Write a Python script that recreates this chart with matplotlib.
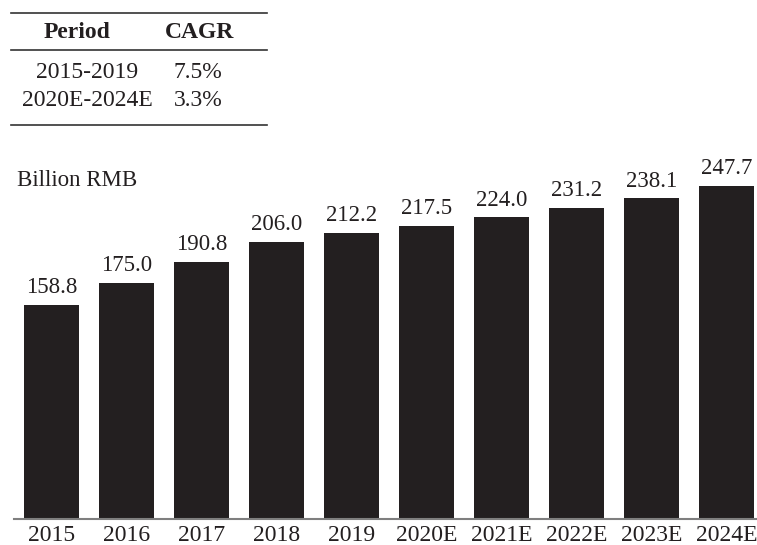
import numpy as np
import matplotlib.pyplot as plt
from matplotlib.lines import Line2D

# Market size, billion RMB
years = ['2015', '2016', '2017', '2018', '2019',
         '2020E', '2021E', '2022E', '2023E', '2024E']
values = [158.8, 175.0, 190.8, 206.0, 212.2, 217.5, 224.0, 231.2, 238.1, 247.7]

# CAGR table
periods = ['2015-2019', '2020E-2024E']
cagr = ['7.5%', '3.3%']

plt.rcParams['font.family'] = ['Liberation Serif', 'DejaVu Serif']

fig = plt.figure(figsize=(7.57, 5.45), dpi=100)
W, H = 757, 545

# main bar axes, placed in pixel terms
left, right, bottom, top = 14, 757, 519, 169
ax = fig.add_axes([left / W, (H - bottom) / H, (right - left) / W, (bottom - top) / H])

x = np.arange(len(years))
bar_color = '#231f20'
ax.bar(x, values, width=0.733, color=bar_color)
for xi, v in zip(x, values):
    ax.annotate(f'{v:.1f}', (xi, v), xytext=(0, 5), textcoords='offset points',
                ha='center', va='bottom', fontsize=16.5, color='#231f20')

ax.set_xlim(-0.5, 9.407)
ax.set_ylim(0, 260)
ax.set_xticks(x)
ax.set_xticklabels(years, fontsize=17, color='#231f20')
ax.tick_params(axis='x', length=0, pad=4)
ax.set_yticks([])
for s in ['top', 'right', 'left']:
    ax.spines[s].set_visible(False)
ax.spines['bottom'].set_color('#7f7f7f')
ax.spines['bottom'].set_linewidth(1.5)

fig.text(17 / W, 1 - 180 / H, 'Billion RMB', fontsize=16.5, color='#231f20',
         ha='left', va='center')

# CAGR table drawn in figure pixel coordinates
def fx(px):
    return px / W

def fy(py):
    return 1 - py / H

line_color = '#333333'
for py in [13, 50, 125]:
    fig.add_artist(Line2D([fx(11), fx(267)], [fy(py), fy(py)],
                          color=line_color, linewidth=1.2))

fig.text(fx(77), fy(33), 'Period', fontsize=17, fontweight='bold',
         ha='center', va='center', color='#231f20')
fig.text(fx(200), fy(33), 'CAGR', fontsize=17, fontweight='bold',
         ha='center', va='center', color='#231f20')
for i, (p, c) in enumerate(zip(periods, cagr)):
    yy = fy(72 + 29 * i)
    fig.text(fx(87), yy, p, fontsize=17, ha='center', va='center', color='#231f20')
    fig.text(fx(198), yy, c, fontsize=17, ha='center', va='center', color='#231f20')

fig.savefig('out.png', dpi=100)
